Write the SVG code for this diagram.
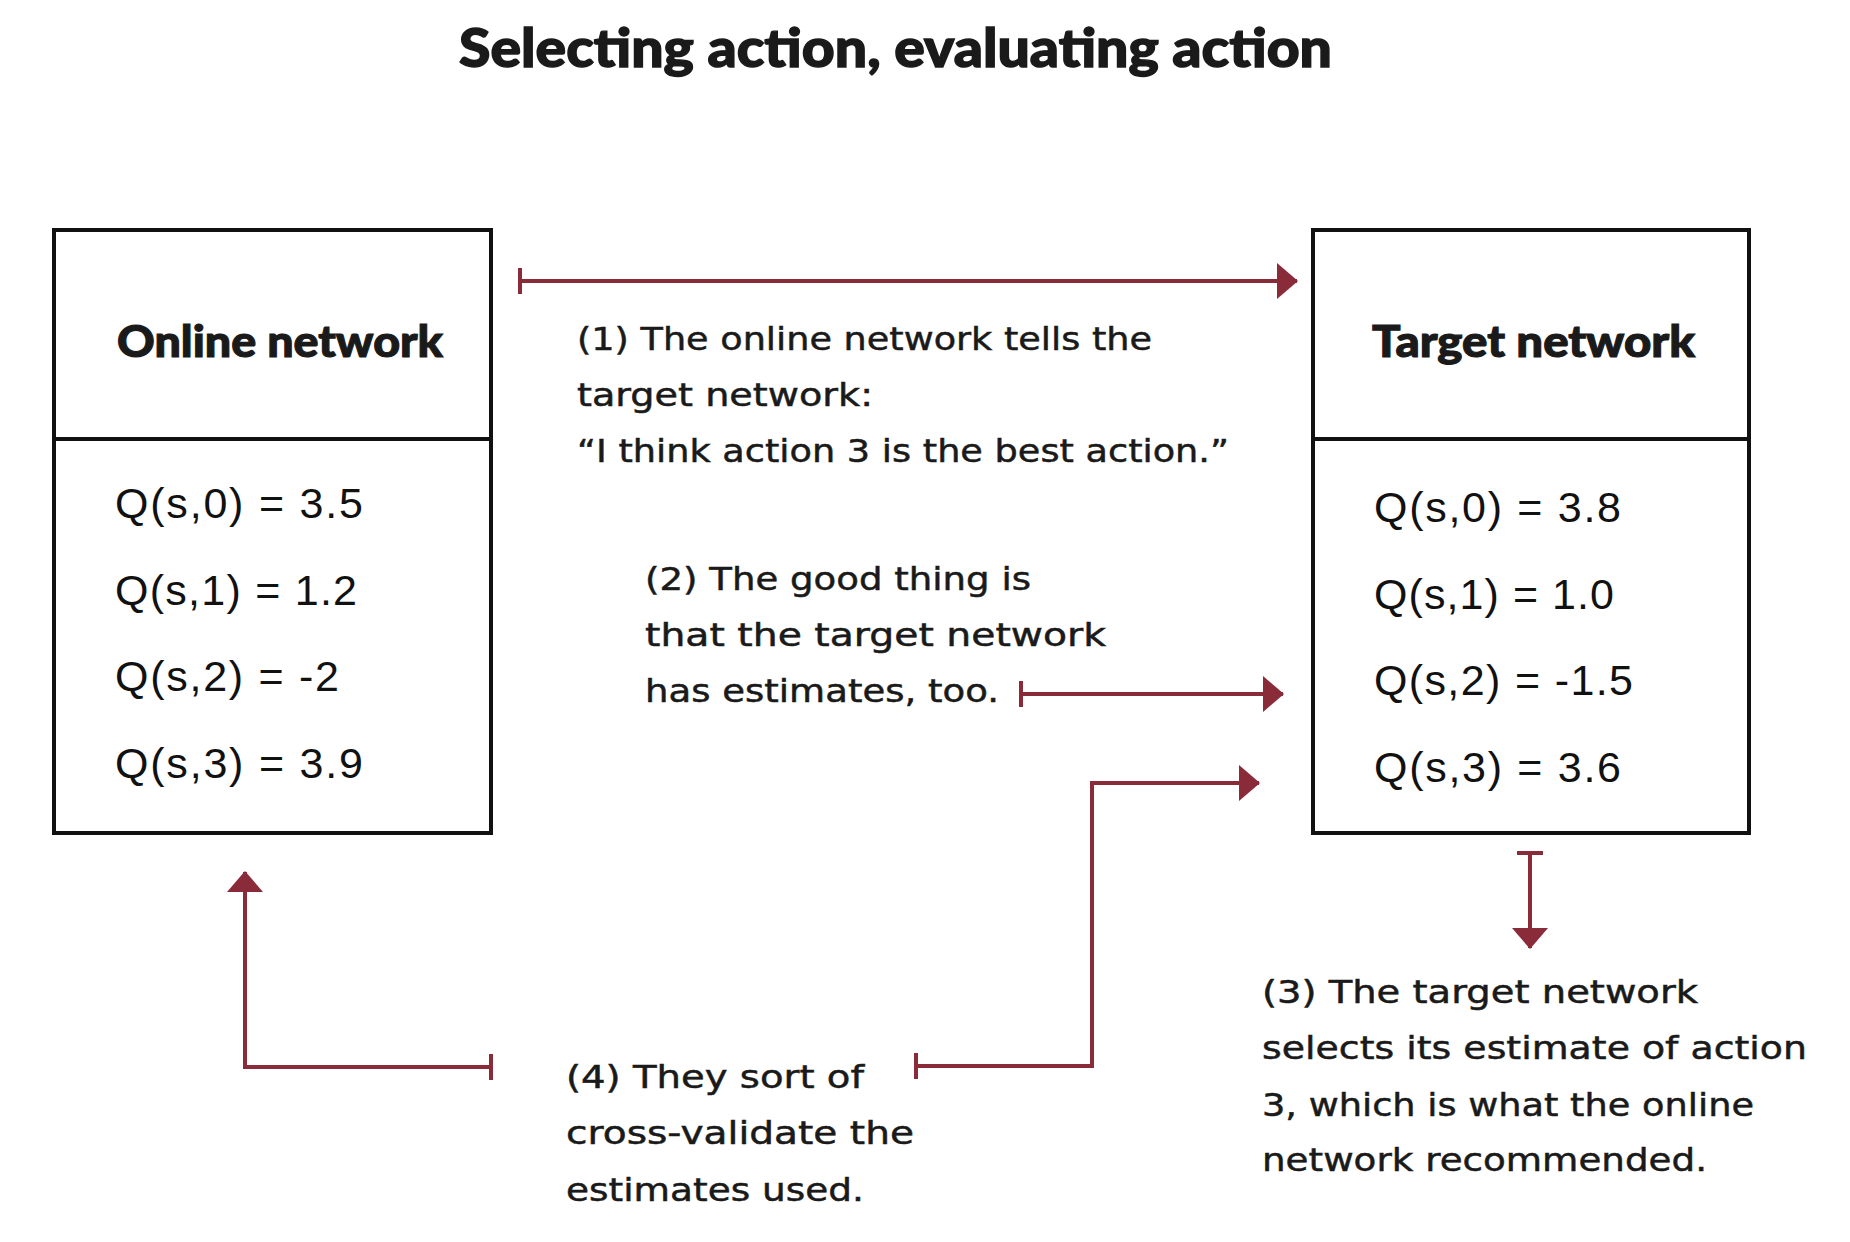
<svg xmlns="http://www.w3.org/2000/svg" width="1850" height="1242" viewBox="0 0 1850 1242">
<style>
.title{font-family:Lato,"Open Sans","Liberation Sans",sans-serif;font-weight:900;font-size:54px;fill:#1a1a1a;stroke:#1a1a1a;stroke-width:1.4}
.head{font-family:Lato,"Open Sans","Liberation Sans",sans-serif;font-weight:900;font-size:44px;fill:#1a1a1a;stroke:#1a1a1a;stroke-width:1.1}
.q{font-family:"Liberation Sans",Arial,sans-serif;font-size:43px;fill:#111}
.note{font-family:"DejaVu Sans","Noto Sans",sans-serif;font-size:32px;fill:#1a1a1a;stroke:#1a1a1a;stroke-width:0.5}
.box{fill:#fff;stroke:#111;stroke-width:4}
.div{stroke:#111;stroke-width:4}
.conn{fill:none;stroke:#8a2b3a;stroke-width:4}
</style>
<defs>
<marker id="ah" markerUnits="userSpaceOnUse" markerWidth="22" markerHeight="38" refX="20" refY="19" orient="auto">
<path d="M0,1 L21,19 L0,37 Z" fill="#8a2b3a"/>
</marker>
<marker id="tk" markerUnits="userSpaceOnUse" markerWidth="6" markerHeight="28" refX="3" refY="14" orient="auto">
<rect x="1" y="1" width="4" height="26" fill="#8a2b3a"/>
</marker>
</defs>
<rect width="1850" height="1242" fill="#fff"/>
<text class="title" x="459" y="67" textLength="873" lengthAdjust="spacingAndGlyphs">Selecting action, evaluating action</text>

<g id="online-network">
<rect class="box" x="54" y="230" width="437" height="603"/>
<line class="div" x1="54" y1="439" x2="491" y2="439"/>
<text class="head" x="117" y="357" textLength="326" lengthAdjust="spacingAndGlyphs">Online network</text>
<text class="q" x="115" y="518" textLength="248" lengthAdjust="spacing">Q(s,0) = 3.5</text>
<text class="q" x="115" y="605" textLength="242" lengthAdjust="spacing">Q(s,1) = 1.2</text>
<text class="q" x="115" y="691" textLength="224" lengthAdjust="spacing">Q(s,2) = -2</text>
<text class="q" x="115" y="778" textLength="248" lengthAdjust="spacing">Q(s,3) = 3.9</text>
</g>

<g id="target-network">
<rect class="box" x="1313" y="230" width="436" height="603"/>
<line class="div" x1="1313" y1="439" x2="1749" y2="439"/>
<text class="head" x="1372" y="357" textLength="323" lengthAdjust="spacingAndGlyphs">Target network</text>
<text class="q" x="1374" y="522" textLength="247" lengthAdjust="spacing">Q(s,0) = 3.8</text>
<text class="q" x="1374" y="609" textLength="240" lengthAdjust="spacing">Q(s,1) = 1.0</text>
<text class="q" x="1374" y="695" textLength="259" lengthAdjust="spacing">Q(s,2) = -1.5</text>
<text class="q" x="1374" y="782" textLength="247" lengthAdjust="spacing">Q(s,3) = 3.6</text>
</g>

<g id="connectors">
<path class="conn" d="M520,281 H1297" marker-start="url(#tk)" marker-end="url(#ah)"/>
<path class="conn" d="M1021,694 H1283" marker-start="url(#tk)" marker-end="url(#ah)"/>
<path class="conn" d="M916,1066 H1092 V783 H1259" marker-start="url(#tk)" marker-end="url(#ah)"/>
<path class="conn" d="M491,1067 H245 V872" marker-start="url(#tk)" marker-end="url(#ah)"/>
<path class="conn" d="M1530,853 V948" marker-start="url(#tk)" marker-end="url(#ah)"/>
</g>

<g id="note-1">
<text class="note" x="577" y="350" textLength="575" lengthAdjust="spacingAndGlyphs">(1) The online network tells the</text>
<text class="note" x="577" y="406" textLength="296" lengthAdjust="spacingAndGlyphs">target network:</text>
<text class="note" x="577" y="462" textLength="652" lengthAdjust="spacingAndGlyphs">“I think action 3 is the best action.”</text>
</g>

<g id="note-2">
<text class="note" x="645" y="590" textLength="386" lengthAdjust="spacingAndGlyphs">(2) The good thing is</text>
<text class="note" x="645" y="646" textLength="461" lengthAdjust="spacingAndGlyphs">that the target network</text>
<text class="note" x="645" y="702" textLength="354" lengthAdjust="spacingAndGlyphs">has estimates, too.</text>
</g>

<g id="note-3">
<text class="note" x="1262" y="1003" textLength="436" lengthAdjust="spacingAndGlyphs">(3) The target network</text>
<text class="note" x="1262" y="1059" textLength="545" lengthAdjust="spacingAndGlyphs">selects its estimate of action</text>
<text class="note" x="1262" y="1116" textLength="492" lengthAdjust="spacingAndGlyphs">3, which is what the online</text>
<text class="note" x="1262" y="1171" textLength="445" lengthAdjust="spacingAndGlyphs">network recommended.</text>
</g>

<g id="note-4">
<text class="note" x="566" y="1088" textLength="298" lengthAdjust="spacingAndGlyphs">(4) They sort of</text>
<text class="note" x="566" y="1144" textLength="348" lengthAdjust="spacingAndGlyphs">cross-validate the</text>
<text class="note" x="566" y="1201" textLength="298" lengthAdjust="spacingAndGlyphs">estimates used.</text>
</g>
</svg>
